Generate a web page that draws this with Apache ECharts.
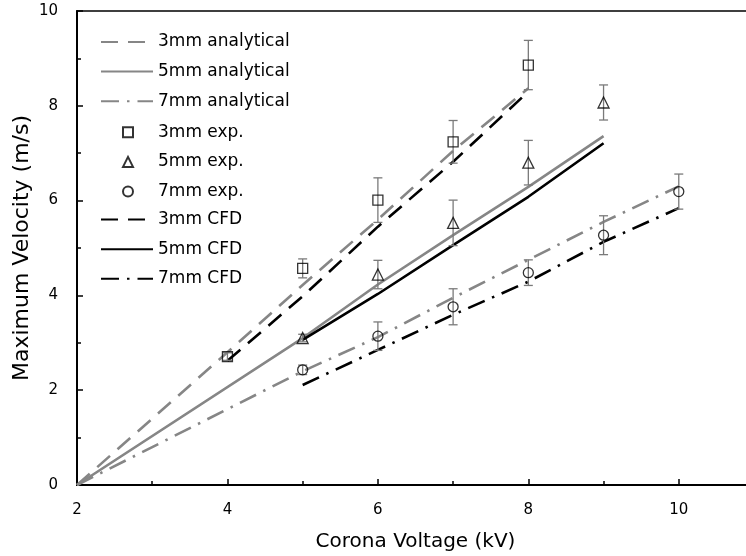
<!DOCTYPE html>
<html>
<head>
<meta charset="utf-8">
<script src="https://cdn.jsdelivr.net/npm/echarts@6/dist/echarts.min.js"></script>
<style>
html,body{margin:0;padding:0;background:#fff;}
#chart{width:746px;height:556px;}
</style>
</head>
<body>
<div id="chart"></div>
<script>
// ---- data ----
const xTicks = [2, 4, 6, 8, 10];
const yTicks = [0, 2, 4, 6, 8, 10];

const ana3X = [2, 4, 5, 6, 7, 8];
const ana3Y = [0, 2.8, 4.22, 5.6, 7.05, 8.37];
const ana5X = [2, 5, 6, 7, 8, 9];
const ana5Y = [0, 3.1, 4.23, 5.27, 6.29, 7.36];
const ana7X = [2, 5, 6, 7, 8, 9, 10];
const ana7Y = [0, 2.4, 3.12, 3.95, 4.75, 5.55, 6.3];

const exp3X = [4, 5, 6, 7, 8];
const exp3Y = [2.71, 4.57, 6.01, 7.24, 8.86];
const exp3Err = [0.08, 0.2, 0.47, 0.45, 0.52];
const exp5X = [5, 6, 7, 8, 9];
const exp5Y = [3.1, 4.44, 5.53, 6.8, 8.07];
const exp5Err = [0.08, 0.3, 0.48, 0.47, 0.37];
const exp7X = [5, 6, 7, 8, 9, 10];
const exp7Y = [2.43, 3.14, 3.76, 4.48, 5.27, 6.19];
const exp7Err = [0.1, 0.3, 0.38, 0.27, 0.41, 0.37];

const cfd3X = [4, 5, 6, 7, 8];
const cfd3Y = [2.62, 3.98, 5.45, 6.82, 8.3];
const cfd5X = [5, 6, 7, 8, 9];
const cfd5Y = [3.06, 4.03, 5.06, 6.08, 7.21];
const cfd7X = [5, 6, 7, 8, 9, 10];
const cfd7Y = [2.11, 2.85, 3.59, 4.29, 5.13, 5.84];

const names = ['3mm analytical', '5mm analytical', '7mm analytical',
               '3mm exp.', '5mm exp.', '7mm exp.',
               '3mm CFD', '5mm CFD', '7mm CFD'];

// ---- helpers ----
const FONT = '"DejaVu Sans", sans-serif';
const GRAY = '#868686';
const zip = (xs, ys) => xs.map((x, i) => [x, ys[i]]);

function lineSeries(name, xs, ys, color, dash) {
  return {
    name, type: 'line', data: zip(xs, ys), symbol: 'none', showSymbol: false,
    lineStyle: { color, width: 2.6, type: dash, cap: 'butt' },
    itemStyle: { color },
    z: 3, animation: false, silent: true
  };
}
function expSeries(name, xs, ys, symbol) {
  return {
    name, type: 'scatter', data: zip(xs, ys), symbol,
    symbolSize: symbol === 'triangle' ? 11 : 10,
    itemStyle: { color: 'transparent', borderColor: '#000', borderWidth: 1.3 },
    z: 5, animation: false, silent: true
  };
}
function errSeries(xs, ys, errs) {
  return {
    type: 'custom', z: 4, animation: false, silent: true,
    data: xs.map((x, i) => [x, ys[i] - errs[i], ys[i] + errs[i]]),
    renderItem: function (params, api) {
      const lo = api.coord([api.value(0), api.value(1)]);
      const hi = api.coord([api.value(0), api.value(2)]);
      const hw = 4.5;
      const st = { stroke: '#7a7a7a', lineWidth: 1.3 };
      return {
        type: 'group',
        children: [
          { type: 'line', shape: { x1: lo[0], y1: lo[1], x2: hi[0], y2: hi[1] }, style: st },
          { type: 'line', shape: { x1: lo[0] - hw, y1: lo[1], x2: lo[0] + hw, y2: lo[1] }, style: st },
          { type: 'line', shape: { x1: hi[0] - hw, y1: hi[1], x2: hi[0] + hw, y2: hi[1] }, style: st }
        ]
      };
    }
  };
}

const DASH = [17, 10];
const DASHDOT = [18, 8, 2.5, 8];

const chart = echarts.init(document.getElementById('chart'), null, { renderer: 'canvas' });
const legendCommon = {
  orient: 'vertical', left: 100, itemWidth: 52, itemGap: 11.6,
  textStyle: { fontFamily: FONT, fontSize: 17, color: '#000', lineHeight: 18 },
  selectedMode: false, padding: 0
};
const lineItem = n => ({ name: n, itemStyle: { opacity: 0 } });
chart.setOption({
  animation: false,
  backgroundColor: '#fff',
  grid: { left: 77, right: -8, top: 11, bottom: 71, show: true, borderColor: '#000', borderWidth: 1.5,
          backgroundColor: 'transparent', outerBoundsMode: 'none', containLabel: false },
  legend: [
    Object.assign({}, legendCommon, { top: 33, itemHeight: 14, data: names.slice(0, 3).map(lineItem) }),
    Object.assign({}, legendCommon, {
      top: 123.3, left: 122, itemWidth: 10, itemHeight: 10, itemGap: 11.6,
      textStyle: { fontFamily: FONT, fontSize: 17, color: '#000', lineHeight: 18, padding: [0, 0, 0, 20] },
      data: names.slice(3, 6)
    }),
    Object.assign({}, legendCommon, { top: 210.6, itemHeight: 14, data: names.slice(6, 9).map(lineItem) })
  ],
  xAxis: [
    {
      type: 'value', min: 2, max: 11, interval: 2, position: 'bottom',
      name: 'Corona Voltage (kV)', nameLocation: 'middle', nameGap: 47,
      nameTextStyle: { fontFamily: FONT, fontSize: 20, color: '#000' },
      axisLine: { show: true, onZero: false, lineStyle: { color: '#000', width: 2 } },
      axisTick: { show: true, inside: true, length: 6, lineStyle: { color: '#000', width: 1.5 } },
      axisLabel: { fontFamily: FONT, fontSize: 15, color: '#000', margin: 18,
        formatter: v => (xTicks.indexOf(v) >= 0 ? String(v) : '') },
      splitLine: { show: false }
    },
    {
      type: 'value', min: 2, max: 11, interval: 1, position: 'bottom', offset: 0,
      axisLine: { show: false },
      axisTick: { show: true, inside: true, length: 4, lineStyle: { color: '#000', width: 1.5 } },
      axisLabel: { show: false }, splitLine: { show: false }
    }
  ],
  yAxis: [
    {
      type: 'value', min: 0, max: 10, interval: 2, position: 'left',
      name: 'Maximum Velocity (m/s)', nameLocation: 'middle', nameGap: 44, nameRotate: 90,
      nameMoveOverlap: false,
      nameTextStyle: { fontFamily: FONT, fontSize: 22, color: '#000' },
      axisLine: { show: true, onZero: false, lineStyle: { color: '#000', width: 2 } },
      axisTick: { show: true, inside: true, length: 6, lineStyle: { color: '#000', width: 1.5 } },
      axisLabel: { fontFamily: FONT, fontSize: 15, color: '#000', margin: 19,
        formatter: v => (yTicks.indexOf(v) >= 0 ? String(v) : '') },
      splitLine: { show: false }
    },
    {
      type: 'value', min: 0, max: 10, interval: 1, position: 'left', offset: 0,
      axisLine: { show: false },
      axisTick: { show: true, inside: true, length: 4, lineStyle: { color: '#000', width: 1.5 } },
      axisLabel: { show: false }, splitLine: { show: false }
    }
  ],
  series: [
    lineSeries(names[0], ana3X, ana3Y, GRAY, DASH),
    lineSeries(names[1], ana5X, ana5Y, GRAY, 'solid'),
    lineSeries(names[2], ana7X, ana7Y, GRAY, DASHDOT),
    errSeries(exp3X, exp3Y, exp3Err),
    errSeries(exp5X, exp5Y, exp5Err),
    errSeries(exp7X, exp7Y, exp7Err),
    expSeries(names[3], exp3X, exp3Y, 'rect'),
    expSeries(names[4], exp5X, exp5Y, 'triangle'),
    expSeries(names[5], exp7X, exp7Y, 'circle'),
    lineSeries(names[6], cfd3X, cfd3Y, '#000', DASH),
    lineSeries(names[7], cfd5X, cfd5Y, '#000', 'solid'),
    lineSeries(names[8], cfd7X, cfd7Y, '#000', DASHDOT)
  ]
});
</script>
</body>
</html>
